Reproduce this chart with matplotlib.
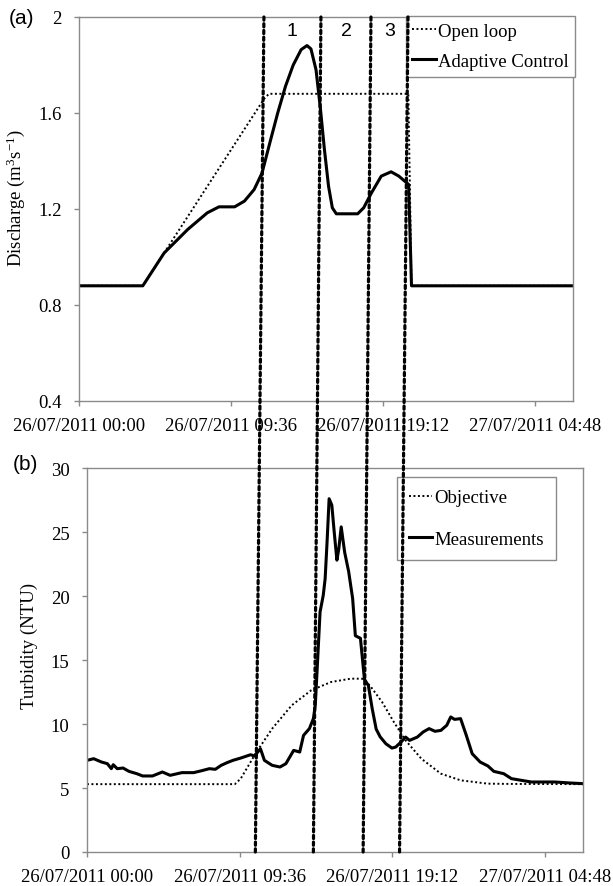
"""Discharge / turbidity figure: (a) open loop vs adaptive control, (b) objective vs measurements."""

import matplotlib
matplotlib.use("Agg")
import matplotlib.pyplot as plt
from matplotlib.patches import ConnectionPatch

plt.rcParams["font.family"] = ["Liberation Serif", "DejaVu Serif"]
plt.rcParams["mathtext.fontset"] = "custom"
plt.rcParams["mathtext.rm"] = "Liberation Serif"
plt.rcParams["mathtext.it"] = "Liberation Serif:italic"

# ---- data (time in hours from 26/07/2011 00:00) ----
XTICKS = [0, 9.6, 19.2, 28.8]
XTICK_LABELS = ["26/07/2011 00:00", "26/07/2011 09:36",
                "26/07/2011 19:12", "27/07/2011 04:48"]
X_MAX = 31.2

open_t = [0, 4.03, 11.7, 12.0, 20.8, 21.0, 31.2]
open_q = [0.88, 0.88, 1.66, 1.68, 1.68, 0.88, 0.88]

adapt_t = [0, 4.03, 5.38, 6.87, 8.1, 8.84, 9.83, 10.45, 11.06, 11.56, 12.05,
           12.55, 13.04, 13.53, 14.03, 14.4, 14.65, 14.97, 15.26, 15.5, 15.76,
           16.0, 16.25, 17.6, 17.98, 18.47, 19.09, 19.71, 20.2, 20.82, 21.0, 31.2]
adapt_q = [0.88, 0.88, 1.017, 1.115, 1.184, 1.209, 1.209, 1.233, 1.281, 1.35, 1.475,
           1.6, 1.711, 1.80, 1.864, 1.881, 1.867, 1.78, 1.61, 1.448, 1.295,
           1.205, 1.18, 1.18, 1.205, 1.267, 1.337, 1.355, 1.337, 1.302, 0.88, 0.88]

obj_t = [0, 9.3, 9.67, 10.66, 11.65, 12.88, 14.1, 15.35, 16.58, 17.3, 17.8,
         18.56, 19.3, 20.04, 21.03, 22.26, 23.5, 25.2, 26.5, 31.2]
obj_ntu = [5.3, 5.3, 5.73, 7.81, 9.64, 11.46, 12.63, 13.28, 13.54, 13.54, 13.0,
           11.72, 10.16, 8.72, 7.29, 6.12, 5.6, 5.34, 5.32, 5.3]

meas_t = [0, 0.42, 0.91, 1.28, 1.53, 1.65, 1.9, 2.27, 2.64, 3.13, 3.5, 4.12,
          4.74, 5.23, 5.97, 6.71, 7.21, 7.7, 8.07, 8.44, 8.81, 9.18, 9.67,
          10.29, 10.54, 10.91, 11.16, 11.65, 12.14, 12.51, 13.0, 13.38, 13.62,
          13.99, 14.24, 14.36, 14.49, 14.66, 14.86, 14.98, 15.1, 15.23, 15.4,
          15.55, 15.72, 15.84, 15.99, 16.21, 16.46, 16.71, 16.88, 17.03, 17.2,
          17.45, 17.7, 17.94, 18.19, 18.44, 18.8, 19.18, 19.42, 19.8, 20.04,
          20.29, 20.78, 21.15, 21.52, 21.89, 22.26, 22.63, 22.88, 23.12, 23.5,
          23.86, 24.23, 24.73, 25.22, 25.59, 26.21, 26.7, 27.32, 27.94, 28.68,
          29.42, 30.4, 31.2]
meas_ntu = [7.16, 7.29, 7.03, 6.9, 6.51, 6.82, 6.51, 6.56, 6.3, 6.12, 5.94, 5.94,
            6.25, 5.99, 6.2, 6.2, 6.35, 6.51, 6.46, 6.77, 6.98, 7.16, 7.34,
            7.6, 7.5, 8.07, 7.16, 6.77, 6.64, 6.9, 7.94, 7.81, 9.11,
            9.64, 10.42, 11.46, 14.58, 18.75, 20.05, 21.35, 24.2, 27.6, 27.1,
            25.0, 22.8, 23.7, 25.4, 23.4, 21.9, 19.8, 16.9, 16.8, 16.7,
            13.5, 13.0, 11.2, 9.6, 9.0, 8.46, 8.12, 8.2, 8.65, 8.98,
            8.72, 8.98, 9.38, 9.64, 9.43, 9.5, 9.9, 10.55, 10.36, 10.42,
            9.11, 7.68, 7.03, 6.72, 6.3, 6.12, 5.73, 5.6, 5.47, 5.47,
            5.47, 5.39, 5.34]

# phase boundaries (hours) where the drawn lines meet the top of (a) and the bottom of (b)
PHASE_TOP = [11.68, 15.28, 18.44, 20.78]
PHASE_BOT = [10.59, 14.24, 17.37, 19.66]
PHASE_LABELS = ["1", "2", "3"]

GREY = "#8a8a8a"
FS = 13.5


def style_axes(ax):
    for s in ax.spines.values():
        s.set_color(GREY)
        s.set_linewidth(1.0)
    ax.set_xlim(0, X_MAX)
    ax.set_xticks(XTICKS)
    ax.set_xticklabels(XTICK_LABELS)
    ax.tick_params(axis="both", direction="out", length=3.5, color=GREY,
                   labelsize=FS, width=1.0)
    ax.tick_params(axis="x", pad=8)
    ax.tick_params(axis="y", pad=9)


fig = plt.figure(figsize=(6.13, 8.87), dpi=100)
ax1 = fig.add_axes([79 / 613, 1 - 402 / 887, 494 / 613, 384 / 887])
ax2 = fig.add_axes([87 / 613, 1 - 853 / 887, 496 / 613, 384 / 887])

# (a)
ax1.plot(open_t, open_q, color="black", lw=1.4, ls=(0, (1, 1.3)), label="Open loop")
ax1.plot(adapt_t, adapt_q, color="black", lw=2.2, label="Adaptive Control")
style_axes(ax1)
ax1.set_ylim(0.4, 2.0)
ax1.set_yticks([0.4, 0.8, 1.2, 1.6, 2.0])
ax1.set_yticklabels(["0.4", "0.8", "1.2", "1.6", "2"])
ax1.set_ylabel(r"Discharge (m$^\mathrm{3}$s$^\mathrm{-1}$)", fontsize=13.5)
ax1.yaxis.set_label_coords(-0.105, 0.53)
ax1.legend(loc="upper right", bbox_to_anchor=(575 / 613, 1 - 17 / 887),
           bbox_transform=fig.transFigure, borderaxespad=0, fontsize=FS,
           handlelength=1.25, handletextpad=0.1, labelspacing=0.7,
           borderpad=0.35, fancybox=False, edgecolor=GREY, framealpha=1)

# (b)
ax2.plot(obj_t, obj_ntu, color="black", lw=1.4, ls=(0, (1, 1.3)), label="Objective")
ax2.plot(meas_t, meas_ntu, color="black", lw=2.2, label="Measurements")
style_axes(ax2)
ax2.set_ylim(0, 30)
ax2.set_yticks([0, 5, 10, 15, 20, 25, 30])
ax2.set_ylabel("Turbidity (NTU)", fontsize=13.5)
ax2.yaxis.set_label_coords(-0.098, 0.54)
ax2.legend(loc="upper right", bbox_to_anchor=(556 / 613, 1 - 478 / 887),
           bbox_transform=fig.transFigure, borderaxespad=0, fontsize=FS,
           handlelength=1.25, handletextpad=0.1, labelspacing=1.3,
           borderpad=0.65, fancybox=False, edgecolor=GREY, framealpha=1)

# phase boundary lines across both panels
for tt, tb in zip(PHASE_TOP, PHASE_BOT):
    con = ConnectionPatch(xyA=(tt, 2.0), coordsA=ax1.transData,
                          xyB=(tb, 0.0), coordsB=ax2.transData,
                          color="black", lw=2.3, linestyle=(0, (1, 1.1)),
                          zorder=10)
    fig.add_artist(con)

for i, lab in enumerate(PHASE_LABELS):
    xc = (PHASE_TOP[i] + PHASE_TOP[i + 1]) / 2
    ax1.text(xc, 1.945, lab, ha="center", va="center", fontsize=14,
             family=["Liberation Sans", "DejaVu Sans"])

fig.text(22 / 613, 1 - 19 / 887, "(a)", ha="center", va="center", fontsize=15,
         family=["Liberation Sans", "DejaVu Sans"])
fig.text(25 / 613, 1 - 465 / 887, "(b)", ha="center", va="center", fontsize=15,
         family=["Liberation Sans", "DejaVu Sans"])

fig.savefig("out.png", dpi=100)
